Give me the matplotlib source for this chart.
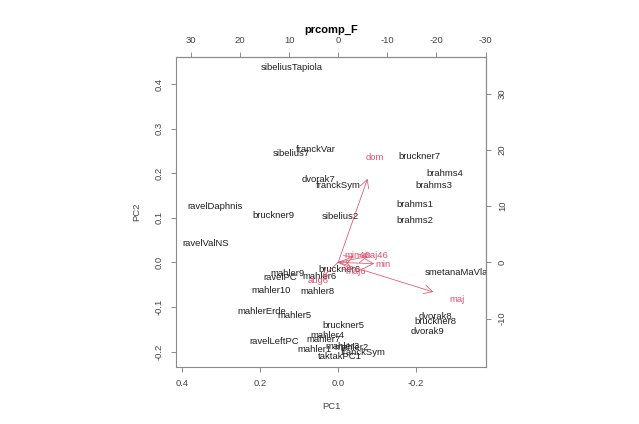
import matplotlib
matplotlib.use("Agg")
import matplotlib.pyplot as plt

plt.rcParams['font.family'] = ['Liberation Sans', 'DejaVu Sans']
plt.rcParams['axes.unicode_minus'] = False

# scores (PC1, PC2) of each piece
pieces = ["sibeliusTapiola", "franckVar", "sibelius7", "dvorak7", "franckSym",
          "ravelDaphnis", "bruckner9", "sibelius2", "ravelValNS", "bruckner7",
          "brahms4", "brahms3", "brahms1", "brahms2", "bruckner6", "mahler9",
          "ravelPC", "mahler6", "mahler10", "mahler8", "mahlerErde", "mahler5",
          "bruckner5", "mahler4", "ravelLeftPC", "mahler7", "mahler3", "mahler1",
          "mahler2", "franckSym", "taktakPC1", "smetanaMaVlast", "dvorak8",
          "bruckner8", "dvorak9"]
pc1 = [0.119, 0.058, 0.119, 0.050, -0.001,
       0.316, 0.167, -0.005, 0.339, -0.209,
       -0.274, -0.246, -0.196, -0.196, -0.002, 0.130,
       0.149, 0.047, 0.172, 0.053, 0.196, 0.113,
       -0.014, 0.028, 0.164, 0.038, -0.011, 0.060,
       -0.034, -0.065, -0.003, -0.312, -0.250,
       -0.249, -0.229]
pc2 = [0.436, 0.254, 0.244, 0.185, 0.172,
       0.126, 0.104, 0.102, 0.043, 0.238,
       0.200, 0.173, 0.129, 0.093, -0.017, -0.025,
       -0.035, -0.032, -0.064, -0.066, -0.110, -0.120,
       -0.141, -0.163, -0.178, -0.174, -0.188, -0.195,
       -0.191, -0.203, -0.212, -0.023, -0.122,
       -0.132, -0.154]

# loadings (top / right axis units)
chords = ["dom", "maj", "min", "maj46", "min46", "maj6", "aug6"]
load1 = [-7.46, -24.2, -9.15, -7.46, -3.9, -3.6, 4.07]
load2 = [18.6, -6.6, -0.3, 1.3, 1.3, -1.55, -3.28]

ratio = 79.4
red = '#DF536B'
axcol = '#8a8a8a'
txtcol = '#444444'
fs = 6.8

fig = plt.figure(figsize=(6.39, 4.24), dpi=100)
ax = fig.add_axes([0.2754, 0.1351, 0.4851, 0.7311])
ax.set_xlim(0.416, -0.379)
ax.set_ylim(-0.234, 0.461)

for name, x, y in zip(pieces, pc1, pc2):
    ax.text(x, y, name, ha='center', va='center', fontsize=fs,
            color='#1e1e1e', clip_on=True)

for name, lx, ly in zip(chords, load1, load2):
    tip = (0.8 * lx / ratio, 0.8 * ly / ratio)
    ax.annotate('', xy=tip, xytext=(0, 0),
                arrowprops=dict(arrowstyle='->,head_length=0.6,head_width=0.32',
                                color=red, lw=0.55, shrinkA=0, shrinkB=0,
                                mutation_scale=10))
    ax.text(lx / ratio, ly / ratio, name, ha='center', va='center',
            fontsize=fs, color=red, clip_on=True)

ax.set_xticks([0.4, 0.2, 0.0, -0.2])
ax.set_xticklabels(['0.4', '0.2', '0.0', '-0.2'])
ax.set_yticks([-0.2, -0.1, 0.0, 0.1, 0.2, 0.3, 0.4])
ax.set_yticklabels(['-0.2', '-0.1', '0.0', '0.1', '0.2', '0.3', '0.4'],
                   rotation=90, va='center')
ax.tick_params(length=3.6, width=0.7, color=axcol, labelcolor=txtcol,
               labelsize=fs, pad=5)

top = ax.secondary_xaxis('top', functions=(lambda v: v * ratio, lambda v: v / ratio))
top.set_xticks([30, 20, 10, 0, -10, -20, -30])
top.tick_params(length=3.6, width=0.7, color=axcol, labelcolor=txtcol,
                labelsize=fs, pad=4.5)
right = ax.secondary_yaxis('right', functions=(lambda v: v * ratio, lambda v: v / ratio))
right.set_yticks([-10, 0, 10, 20, 30])
right.set_yticklabels(['-10', '0', '10', '20', '30'], rotation=90, va='center')
right.tick_params(length=3.6, width=0.7, color=axcol, labelcolor=txtcol,
                  labelsize=fs, pad=5)

for s in list(ax.spines.values()) + list(top.spines.values()) + list(right.spines.values()):
    s.set_color(axcol)
    s.set_linewidth(0.8)

ax.set_xlabel('PC1', fontsize=fs, color=txtcol, labelpad=10)
ax.set_ylabel('PC2', fontsize=fs, color=txtcol, labelpad=10)
ax.set_title('prcomp_F', fontsize=8, fontweight='bold', pad=17)

fig.savefig('out.png', dpi=100)
